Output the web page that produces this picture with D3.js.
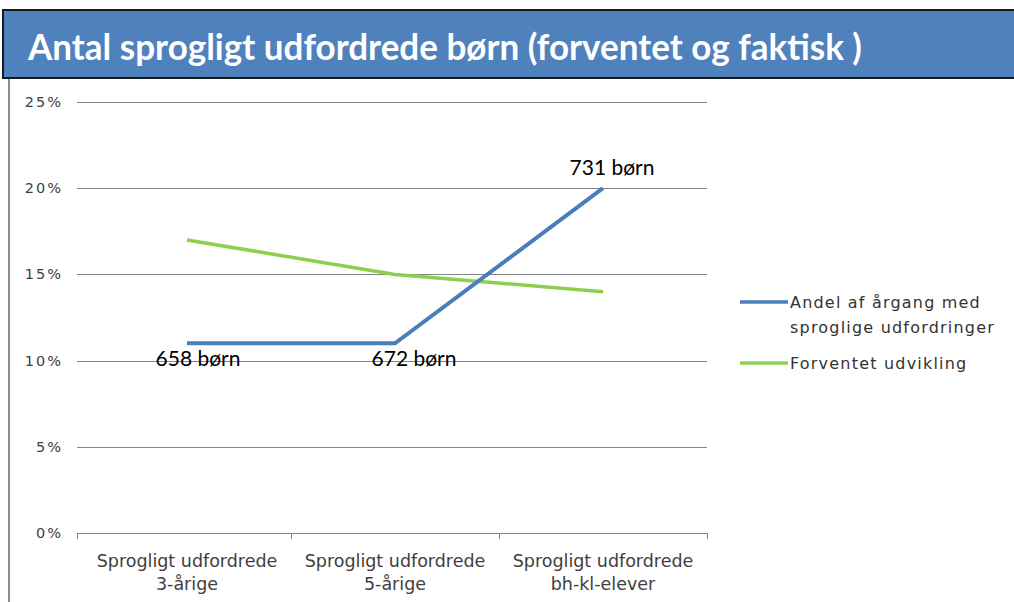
<!DOCTYPE html>
<html>
<head>
<meta charset="utf-8">
<script src="https://cdn.jsdelivr.net/npm/d3@7"></script>
<style>
  body { margin: 0; background: #fff; }
  svg { display: block; }
</style>
</head>
<body>
<div id="chart"></div>
<script>
// chart data
var categories = [
  ["Sprogligt udfordrede", "3-årige"],
  ["Sprogligt udfordrede", "5-årige"],
  ["Sprogligt  udfordrede", "bh-kl-elever"]
];
var actualShare = [0.11, 0.11, 0.20];     // Andel af årgang med sproglige udfordringer
var expectedShare = [0.17, 0.15, 0.14];   // Forventet udvikling
var childCounts = ["658 børn", "672 børn", "731 børn"];
var yTicks = [0, 0.05, 0.10, 0.15, 0.20, 0.25];
var seriesNames = [["Andel af årgang med", "sproglige udfordringer"], ["Forventet udvikling"]];

var width = 1014, height = 602;
var svg = d3.select("#chart").append("svg")
  .attr("width", width)
  .attr("height", height);

// title banner
svg.append("rect")
  .attr("x", 3).attr("y", 10)
  .attr("width", width + 10).attr("height", 68)
  .attr("fill", "#4f81bd")
  .attr("stroke", "#1a1a1a")
  .attr("stroke-width", 2);

svg.append("text")
  .attr("x", 28).attr("y", 60)
  .attr("fill", "#fff")
  .attr("font-family", "Lato, 'Open Sans', sans-serif")
  .attr("font-weight", "bold")
  .attr("font-size", 37)
  .attr("textLength", 834)
  .attr("lengthAdjust", "spacingAndGlyphs")
  .text("Antal sprogligt udfordrede børn (forventet og faktisk )");

// left frame line
svg.append("line")
  .attr("x1", 9).attr("x2", 9)
  .attr("y1", 79).attr("y2", height)
  .attr("stroke", "#8c8c8c")
  .attr("stroke-width", 2);

var plotLeft = 77, plotRight = 707;

// category positions (points), ticks halfway between them
var x = d3.scalePoint()
  .domain(d3.range(categories.length))
  .range([187, 603]);

var y = d3.scaleLinear()
  .domain([0, 0.25])
  .range([533, 102]);

var axisFont = "'DejaVu Sans', sans-serif";

// gridlines
svg.append("g")
  .selectAll("line")
  .data(yTicks)
  .enter().append("line")
  .attr("x1", plotLeft).attr("x2", plotRight)
  .attr("y1", d => Math.round(y(d)) + 0.5)
  .attr("y2", d => Math.round(y(d)) + 0.5)
  .attr("stroke", "#868686")
  .attr("stroke-width", 1);

// y labels
svg.append("g")
  .selectAll("text")
  .data(yTicks)
  .enter().append("text")
  .attr("x", 63)
  .attr("y", d => y(d) + 5)
  .attr("text-anchor", "end")
  .attr("font-family", axisFont)
  .attr("font-size", 14.5)
  .attr("letter-spacing", 2)
  .attr("fill", "#404040")
  .text(d3.format(".0%"));

// category ticks
var tickXs = [plotLeft]
  .concat(d3.range(categories.length - 1).map(i => (x(i) + x(i + 1)) / 2))
  .concat([plotRight]);
svg.append("g")
  .selectAll("line")
  .data(tickXs)
  .enter().append("line")
  .attr("x1", d => Math.round(d) + 0.5)
  .attr("x2", d => Math.round(d) + 0.5)
  .attr("y1", 533).attr("y2", 539)
  .attr("stroke", "#868686");

// category labels
var catLabels = svg.append("g")
  .selectAll("text")
  .data(categories)
  .enter().append("text")
  .attr("text-anchor", "middle")
  .attr("font-family", axisFont)
  .attr("font-size", 17.5)
  .attr("fill", "#404040");

catLabels.selectAll("tspan")
  .data((d, i) => d.map(t => ({ t: t, i: i })))
  .enter().append("tspan")
  .attr("x", d => x(d.i))
  .attr("y", (d, j) => 567 + j * 23)
  .text(d => d.t);

var line = d3.line()
  .x((d, i) => x(i))
  .y(d => y(d));

svg.append("path")
  .datum(expectedShare)
  .attr("d", line)
  .attr("fill", "none")
  .attr("stroke", "#8cd04f")
  .attr("stroke-width", 3.5);

svg.append("path")
  .datum(actualShare)
  .attr("d", line)
  .attr("fill", "none")
  .attr("stroke", "#4a7ebb")
  .attr("stroke-width", 4);

// data labels
var labelOffsets = [[11, 23], [19, 23], [9, -13]];
svg.append("g")
  .selectAll("text")
  .data(childCounts)
  .enter().append("text")
  .attr("x", (d, i) => x(i) + labelOffsets[i][0])
  .attr("y", (d, i) => y(actualShare[i]) + labelOffsets[i][1])
  .attr("text-anchor", "middle")
  .attr("font-family", "Lato, 'Open Sans', sans-serif")
  .attr("font-size", 21)
  .attr("fill", "#000")
  .text(d => d);

// legend
var legendColors = ["#4a7ebb", "#8cd04f"];
var legendY = [302, 363];
var legend = svg.append("g")
  .selectAll("g")
  .data(seriesNames)
  .enter().append("g");

legend.append("line")
  .attr("x1", 740).attr("x2", 788)
  .attr("y1", (d, i) => legendY[i]).attr("y2", (d, i) => legendY[i])
  .attr("stroke", (d, i) => legendColors[i])
  .attr("stroke-width", 3.5);

legend.append("text")
  .attr("font-family", axisFont)
  .attr("font-size", 16)
  .attr("letter-spacing", 1.2)
  .attr("fill", "#333")
  .selectAll("tspan")
  .data((d, i) => d.map(t => ({ t: t, i: i })))
  .enter().append("tspan")
  .attr("x", 790)
  .attr("y", (d, j) => legendY[d.i] + 6 + j * 25)
  .text(d => d.t);
</script>
</body>
</html>
